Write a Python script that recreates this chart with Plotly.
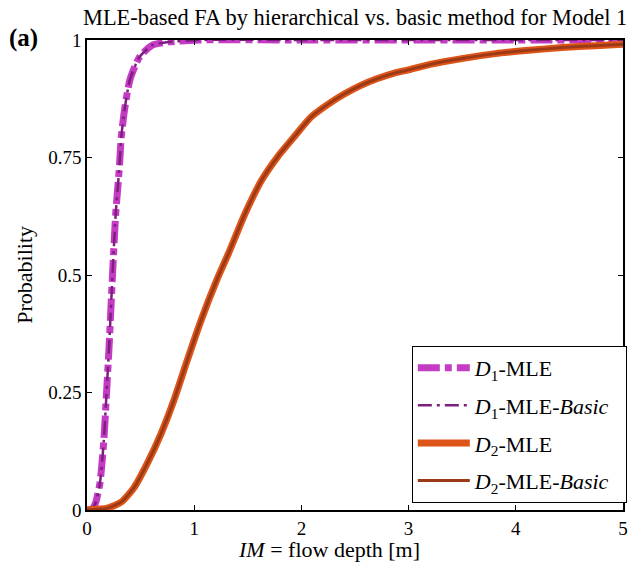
import plotly.graph_objects as go

# D1 fragility (MLE, hierarchical)
d1_im = [0.0, 0.05, 0.08, 0.12, 0.157, 0.18, 0.206, 0.228, 0.243, 0.268, 0.30, 0.32, 0.35, 0.40, 0.49, 0.61, 0.77, 1.04, 2.0, 3.0, 4.0, 5.0]
d1_p = [0.0, 0.003, 0.015, 0.056, 0.148, 0.24, 0.347, 0.453, 0.524, 0.631, 0.723, 0.794, 0.851, 0.915, 0.964, 0.989, 0.996, 1.0, 1.0, 1.0, 1.0, 1.0]
# D1 basic (overlaps)
d1b_im = list(d1_im)
d1b_p = list(d1_p)

# D2 fragility
d2_im = [0.0, 0.19, 0.32, 0.44, 0.56, 0.69, 0.81, 0.93, 1.055, 1.21, 1.32, 1.475, 1.63, 1.78, 1.94, 2.09, 2.24, 2.40, 2.55, 2.71, 2.86, 3.01, 3.20, 3.51, 3.81, 4.12, 4.43, 4.74, 5.0]
d2_p = [0.0, 0.004, 0.017, 0.048, 0.098, 0.162, 0.233, 0.315, 0.398, 0.489, 0.546, 0.631, 0.702, 0.752, 0.796, 0.836, 0.862, 0.885, 0.903, 0.918, 0.929, 0.937, 0.948, 0.961, 0.971, 0.978, 0.984, 0.988, 0.991]
d2b_im = list(d2_im)
d2b_p = list(d2_p)

x_ticks = [0, 1, 2, 3, 4, 5]
y_ticks = [0, 0.25, 0.5, 0.75, 1]
y_tick_labels = ["0", "0.25", "0.5", "0.75", "1"]

serif = "Liberation Serif"
pad = "\u00a0\u00a0"

fig = go.Figure()
fig.add_trace(go.Scatter(x=d1_im, y=d1_p, mode="lines", name="<i>D</i><sub>1</sub>-MLE" + pad,
                         legendgroup="a",
                         line=dict(color="#c43cc4", width=7, dash="22px,5px,7px,5px", shape="spline", smoothing=0.6)))
fig.add_trace(go.Scatter(x=d1b_im, y=d1b_p, mode="lines", name="<i>D</i><sub>1</sub>-MLE-<i>Basic</i>" + pad,
                         legendgroup="b",
                         line=dict(color="#7e1f80", width=2.5, dash="14px,5px,3px,5px", shape="spline", smoothing=0.6)))
fig.add_trace(go.Scatter(x=d2_im, y=d2_p, mode="lines", name="<i>D</i><sub>2</sub>-MLE" + pad,
                         legendgroup="c",
                         line=dict(color="#dd5518", width=7, shape="spline", smoothing=0.6)))
fig.add_trace(go.Scatter(x=d2b_im, y=d2b_p, mode="lines", name="<i>D</i><sub>2</sub>-MLE-<i>Basic</i>" + pad,
                         legendgroup="d",
                         line=dict(color="#9c3a18", width=3, shape="spline", smoothing=0.6)))

axis_common = dict(showline=True, linecolor="black", linewidth=1.5, mirror="ticks",
                   ticks="inside", ticklen=5, tickwidth=1, tickcolor="black",
                   showgrid=False, zeroline=False,
                   tickfont=dict(family=serif, size=19, color="black"))

fig.update_layout(
    width=633, height=568,
    margin=dict(l=87, r=5, t=40, b=58),
    paper_bgcolor="white", plot_bgcolor="white",
    font=dict(family=serif, size=19, color="black"),
    xaxis=dict(range=[0, 5], tickvals=x_ticks, **axis_common),
    yaxis=dict(range=[0, 1], tickvals=y_ticks, ticktext=y_tick_labels, **axis_common),
    showlegend=True,
    legend=dict(x=0.606, y=0.349, xanchor="left", yanchor="top",
                bgcolor="white", bordercolor="black", borderwidth=1,
                font=dict(family=serif, size=22, color="black"),
                tracegroupgap=6, itemwidth=52),
    annotations=[
        dict(text="MLE-based FA by hierarchical vs. basic method for Model 1",
             xref="paper", yref="paper", x=0.5, y=1.047, xanchor="center", yanchor="middle",
             showarrow=False, font=dict(family=serif, size=22.4, color="black")),
        dict(text="<b>(a)</b>", xref="paper", yref="paper", x=-0.150, y=1.005,
             xanchor="left", yanchor="middle", showarrow=False,
             font=dict(family=serif, size=25, color="black")),
        dict(text="<i>IM</i> = flow depth [m]", xref="paper", yref="paper", x=0.452, y=-0.085,
             xanchor="center", yanchor="middle", showarrow=False,
             font=dict(family=serif, size=22, color="black")),
        dict(text="Probability", xref="paper", yref="paper", x=-0.118, y=0.5,
             xanchor="center", yanchor="middle", textangle=-90, showarrow=False,
             font=dict(family=serif, size=22, color="black")),
    ],
)

fig.write_html("out.html", config={"displayModeBar": False},
               post_script="document.body.style.margin='0';window.dispatchEvent(new Event('resize'));")
